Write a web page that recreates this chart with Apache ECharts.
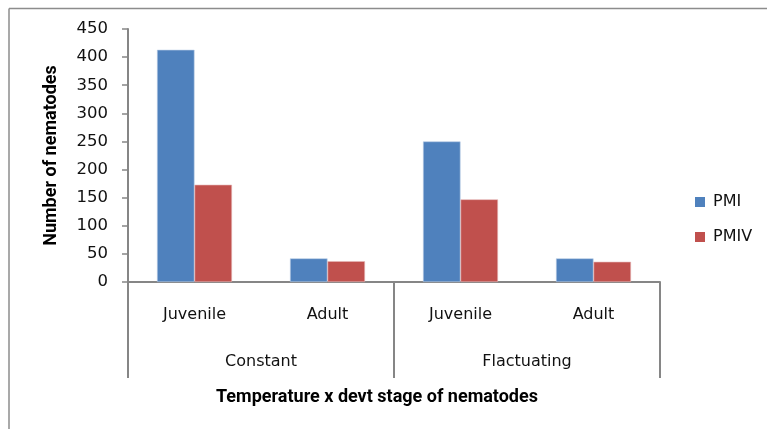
<!DOCTYPE html>
<html>
<head>
<meta charset="utf-8">
<script src="https://cdn.jsdelivr.net/npm/echarts@6/dist/echarts.min.js"></script>
<style>
  html, body { margin: 0; padding: 0; background: #fff; }
  #chart { width: 767px; height: 429px; }
</style>
</head>
<body>
<div id="chart"></div>
<script>
// Nematode counts by temperature regime and development stage
const stages = ['Juvenile', 'Adult', 'Juvenile', 'Adult'];
const regimes = ['Constant', 'Flactuating'];
const pmiValues = [413, 42, 250, 42];
const pmivValues = [173, 37, 147, 36];
const yTicks = { min: 0, max: 450, step: 50 };

const axisGray = '#868686';
const font = 'DejaVu Sans';
const boldFont = 'Roboto';

const chart = echarts.init(document.getElementById('chart'));
chart.setOption({
  animation: false,
  backgroundColor: '#fff',
  grid: { left: 128, right: 107, top: 29, bottom: 147, containLabel: false },
  legend: {
    orient: 'vertical',
    left: 695,
    top: 194,
    padding: 0,
    itemWidth: 10,
    itemHeight: 10,
    itemGap: 19,
    icon: 'rect',
    itemStyle: { borderWidth: 0 },
    textStyle: { fontFamily: font, fontSize: 16, color: '#111', lineHeight: 16, padding: [0, 0, 0, 3] },
    data: ['PMI', 'PMIV']
  },
  xAxis: [
    {
      type: 'category',
      data: stages,
      gridIndex: 0,
      axisLine: { show: true, lineStyle: { color: axisGray, width: 2 } },
      axisTick: { show: false },
      axisLabel: { margin: 25, fontFamily: font, fontSize: 16, color: '#111' }
    },
    {
      type: 'category',
      data: regimes,
      gridIndex: 0,
      position: 'bottom',
      axisLine: { show: false },
      axisTick: { show: true, length: 96, lineStyle: { color: axisGray, width: 2 } },
      axisLabel: { margin: 72, fontFamily: font, fontSize: 16, color: '#111' }
    }
  ],
  yAxis: {
    type: 'value',
    min: yTicks.min,
    max: yTicks.max,
    interval: yTicks.step,
    name: 'Number of nematodes',
    nameLocation: 'middle',
    nameGap: 68,
    nameTextStyle: { fontFamily: boldFont, fontSize: 18, fontWeight: 'bold', color: '#000' },
    axisLine: { show: true, lineStyle: { color: axisGray, width: 2 } },
    axisTick: { show: true, length: 6, lineStyle: { color: axisGray, width: 1.5 } },
    splitLine: { show: false },
    axisLabel: { margin: 20, fontFamily: font, fontSize: 16.5, color: '#111' }
  },
  series: [
    {
      name: 'PMI',
      type: 'bar',
      xAxisIndex: 0,
      data: pmiValues,
      barWidth: 37.5,
      barGap: '0%',
      itemStyle: { color: '#4F81BD', borderColor: '#B9CDE5', borderWidth: 0.6 }
    },
    {
      name: 'PMIV',
      type: 'bar',
      xAxisIndex: 0,
      data: pmivValues,
      barWidth: 37.5,
      barGap: '0%',
      itemStyle: { color: '#C0504D', borderColor: '#E6B9B8', borderWidth: 0.6 }
    }
  ],
  graphic: [
    {
      type: 'text',
      x: 377,
      y: 397,
      style: {
        text: 'Temperature x devt stage of nematodes',
        fontFamily: boldFont,
        fontSize: 18,
        fontWeight: 'bold',
        fill: '#000',
        align: 'center',
        verticalAlign: 'middle'
      }
    },
    { type: 'line', shape: { x1: 9, y1: 8.5, x2: 767, y2: 8.5 }, style: { stroke: '#8c8c8c', lineWidth: 1.5 } },
    { type: 'line', shape: { x1: 9, y1: 8.5, x2: 9, y2: 429 }, style: { stroke: '#8c8c8c', lineWidth: 1.5 } }
  ]
});
</script>
</body>
</html>
